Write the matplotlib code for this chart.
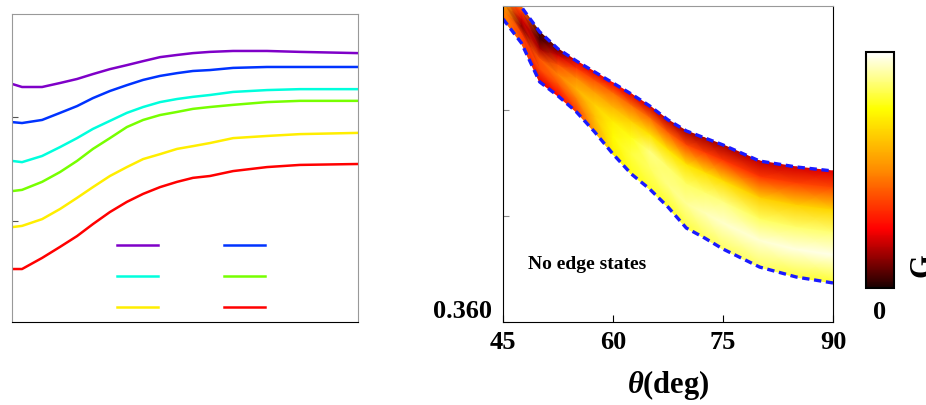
import matplotlib
matplotlib.use("Agg")
import matplotlib.pyplot as plt
import numpy as np
from matplotlib.colors import LinearSegmentedColormap

plt.rcParams['font.family'] = ['Liberation Serif', 'DejaVu Serif']
plt.rcParams['font.weight'] = 'bold'
plt.rcParams['mathtext.fontset'] = 'custom'
plt.rcParams['mathtext.it'] = 'Liberation Serif:italic:bold'
plt.rcParams['mathtext.rm'] = 'Liberation Serif:bold'

# 左パネル: 6本の曲線
x_left = [0, 0.029, 0.087, 0.139, 0.188, 0.234, 0.283, 0.332, 0.379, 0.428,
          0.477, 0.523, 0.572, 0.639, 0.737, 0.832, 1.0]
curve_purple = [0.773, 0.763, 0.763, 0.776, 0.789, 0.805, 0.821, 0.834, 0.847, 0.860,
                0.867, 0.873, 0.877, 0.880, 0.880, 0.877, 0.873]
curve_blue = [0.649, 0.646, 0.656, 0.679, 0.701, 0.727, 0.750, 0.769, 0.786, 0.799,
              0.808, 0.815, 0.818, 0.825, 0.828, 0.828, 0.828]
curve_cyan = [0.523, 0.519, 0.539, 0.568, 0.597, 0.627, 0.653, 0.679, 0.698, 0.714,
              0.724, 0.731, 0.737, 0.747, 0.753, 0.756, 0.756]
curve_green = [0.425, 0.429, 0.455, 0.487, 0.523, 0.562, 0.597, 0.633, 0.656, 0.672,
               0.682, 0.692, 0.698, 0.705, 0.714, 0.718, 0.718]
curve_yellow = [0.308, 0.312, 0.334, 0.367, 0.403, 0.438, 0.474, 0.503, 0.529, 0.545,
                0.562, 0.571, 0.581, 0.597, 0.604, 0.610, 0.614]
curve_red = [0.172, 0.172, 0.208, 0.244, 0.279, 0.318, 0.357, 0.390, 0.416, 0.438,
             0.455, 0.468, 0.474, 0.490, 0.503, 0.510, 0.513]
left_yticks = [0.328, 0.666]

# 右パネル: 境界とG
theta = [45, 47.5, 50, 52.5, 55, 57.5, 60, 62.5, 65, 67.5, 70, 72.5, 75, 80, 85, 90]
upper = [0.37599, 0.37486, 0.37368, 0.37288, 0.37231, 0.37179, 0.37127, 0.37075,
         0.37019, 0.36953, 0.36901, 0.36868, 0.36835, 0.36759, 0.36731, 0.36712]
lower = [0.37429, 0.37316, 0.37132, 0.37066, 0.36991, 0.36896, 0.36792, 0.36698,
         0.36627, 0.36542, 0.36443, 0.36396, 0.36344, 0.36259, 0.36212, 0.36184]
depth = [0, 0.15, 0.35, 0.55, 0.75, 1.0]  # 0=上側境界, 1=下側境界
G = [
    [0.50, 0.45, 0.05, 0.08, 0.22, 0.22, 0.25, 0.22, 0.20, 0.18, 0.15, 0.15, 0.15, 0.18, 0.20, 0.22],
    [0.50, 0.35, 0.05, 0.20, 0.35, 0.40, 0.45, 0.45, 0.45, 0.42, 0.38, 0.36, 0.35, 0.35, 0.37, 0.38],
    [0.55, 0.20, 0.15, 0.40, 0.50, 0.55, 0.60, 0.66, 0.70, 0.70, 0.70, 0.69, 0.68, 0.65, 0.66, 0.67],
    [0.55, 0.12, 0.40, 0.48, 0.58, 0.65, 0.72, 0.78, 0.88, 0.86, 0.85, 0.86, 0.88, 0.85, 0.86, 0.87],
    [0.50, 0.35, 0.38, 0.40, 0.48, 0.62, 0.75, 0.82, 0.85, 0.88, 0.90, 0.93, 0.95, 0.96, 0.97, 0.98],
    [0.45, 0.40, 0.22, 0.25, 0.35, 0.55, 0.72, 0.78, 0.80, 0.80, 0.82, 0.84, 0.85, 0.85, 0.82, 0.80],
]
right_yticks = [0.360, 0.365, 0.370]
right_ylabels = ['0.360', '', '']
xticks = [45, 60, 75, 90]

fig = plt.figure(figsize=(9.26, 4.06), dpi=100)

# ---- 左 ----
ax1 = fig.add_axes([12/926, 1-323/406, 346/926, 308/406])
colors = ['#7f00c8', '#0033ff', '#00ffdd', '#77ff00', '#ffee00', '#ff0000']
curves = [curve_purple, curve_blue, curve_cyan, curve_green, curve_yellow, curve_red]
lines = []
for c, col in zip(curves, colors):
    l, = ax1.plot(x_left, c, color=col, lw=1.8)
    lines.append(l)
ax1.set_xlim(0, 1)
ax1.set_ylim(0, 1)
ax1.set_xticks([])
ax1.set_yticks(left_yticks)
ax1.set_yticklabels([])
ax1.tick_params(axis='y', direction='in', length=4, color='#555555')
for s in ['top', 'right', 'left']:
    ax1.spines[s].set_color('#999999')
ax1.spines['bottom'].set_color('black')
order = [0, 2, 4, 1, 3, 5]
ax1.legend([lines[i] for i in order], [' '] * 6, ncol=2, frameon=False,
           loc='center', bbox_to_anchor=(0.538, 0.146), fontsize=10,
           handlelength=2.95, handletextpad=0.8, columnspacing=3.7, labelspacing=1.3)

# ---- 右 ----
ax2 = fig.add_axes([503/926, 1-323/406, 330/926, 316/406])
cmap = LinearSegmentedColormap.from_list(
    'g', [(0, '#1a0000'), (0.12, '#8b0000'), (0.25, '#ff0000'), (0.5, '#ff8c00'),
          (0.76, '#ffff00'), (1.0, '#ffffff')])
th = np.array(theta)
up = np.array(upper)
lo = np.array(lower)
d = np.array(depth)
X = np.broadcast_to(th, (len(d), len(th)))
Y = up[None, :] + d[:, None] * (lo - up)[None, :]
mesh = ax2.pcolormesh(X, Y, np.array(G), shading='gouraud', cmap=cmap, vmin=0, vmax=1)
ax2.plot(theta, upper, color='#1a1aff', lw=2.4, ls=(0, (2.2, 1.4)))
ax2.plot(theta, lower, color='#1a1aff', lw=2.4, ls=(0, (2.2, 1.4)))
ax2.set_xlim(45, 90)
ax2.set_ylim(0.360, 0.3749)
ax2.set_xticks(xticks)
ax2.set_xticklabels([str(t) for t in xticks], fontsize=19, fontweight='bold')
ax2.set_yticks(right_yticks)
ax2.set_yticklabels(right_ylabels, fontsize=19, fontweight='bold')
for lab in ax2.get_yticklabels():
    lab.set_va('bottom')
ax2.tick_params(axis='y', direction='in', length=4, color='#888888', pad=8)
ax2.tick_params(axis='x', direction='in', length=5, color='black', pad=6)
ax2.spines['top'].set_color('#999999')
ax2.set_xlabel(r'$\theta$(deg)', fontsize=22, fontweight='bold', labelpad=10)
ax2.text(0.076, 0.184, 'No edge states', transform=ax2.transAxes, fontsize=14,
         fontweight='bold', ha='left', va='center')

# ---- カラーバー ----
cax = fig.add_axes([866/926, 1-289/406, 28/926, 236/406])
cb = fig.colorbar(mesh, cax=cax)
cb.set_ticks([])
cb.outline.set_linewidth(1.5)
cax.text(0.5, -0.05, '0', transform=cax.transAxes, ha='center', va='top',
         fontsize=19, fontweight='bold')
fig.text(908/926, 1-265/406, 'G', rotation=90, ha='left', va='center',
         fontsize=22, fontweight='bold')

fig.savefig('out.png', dpi=100)
